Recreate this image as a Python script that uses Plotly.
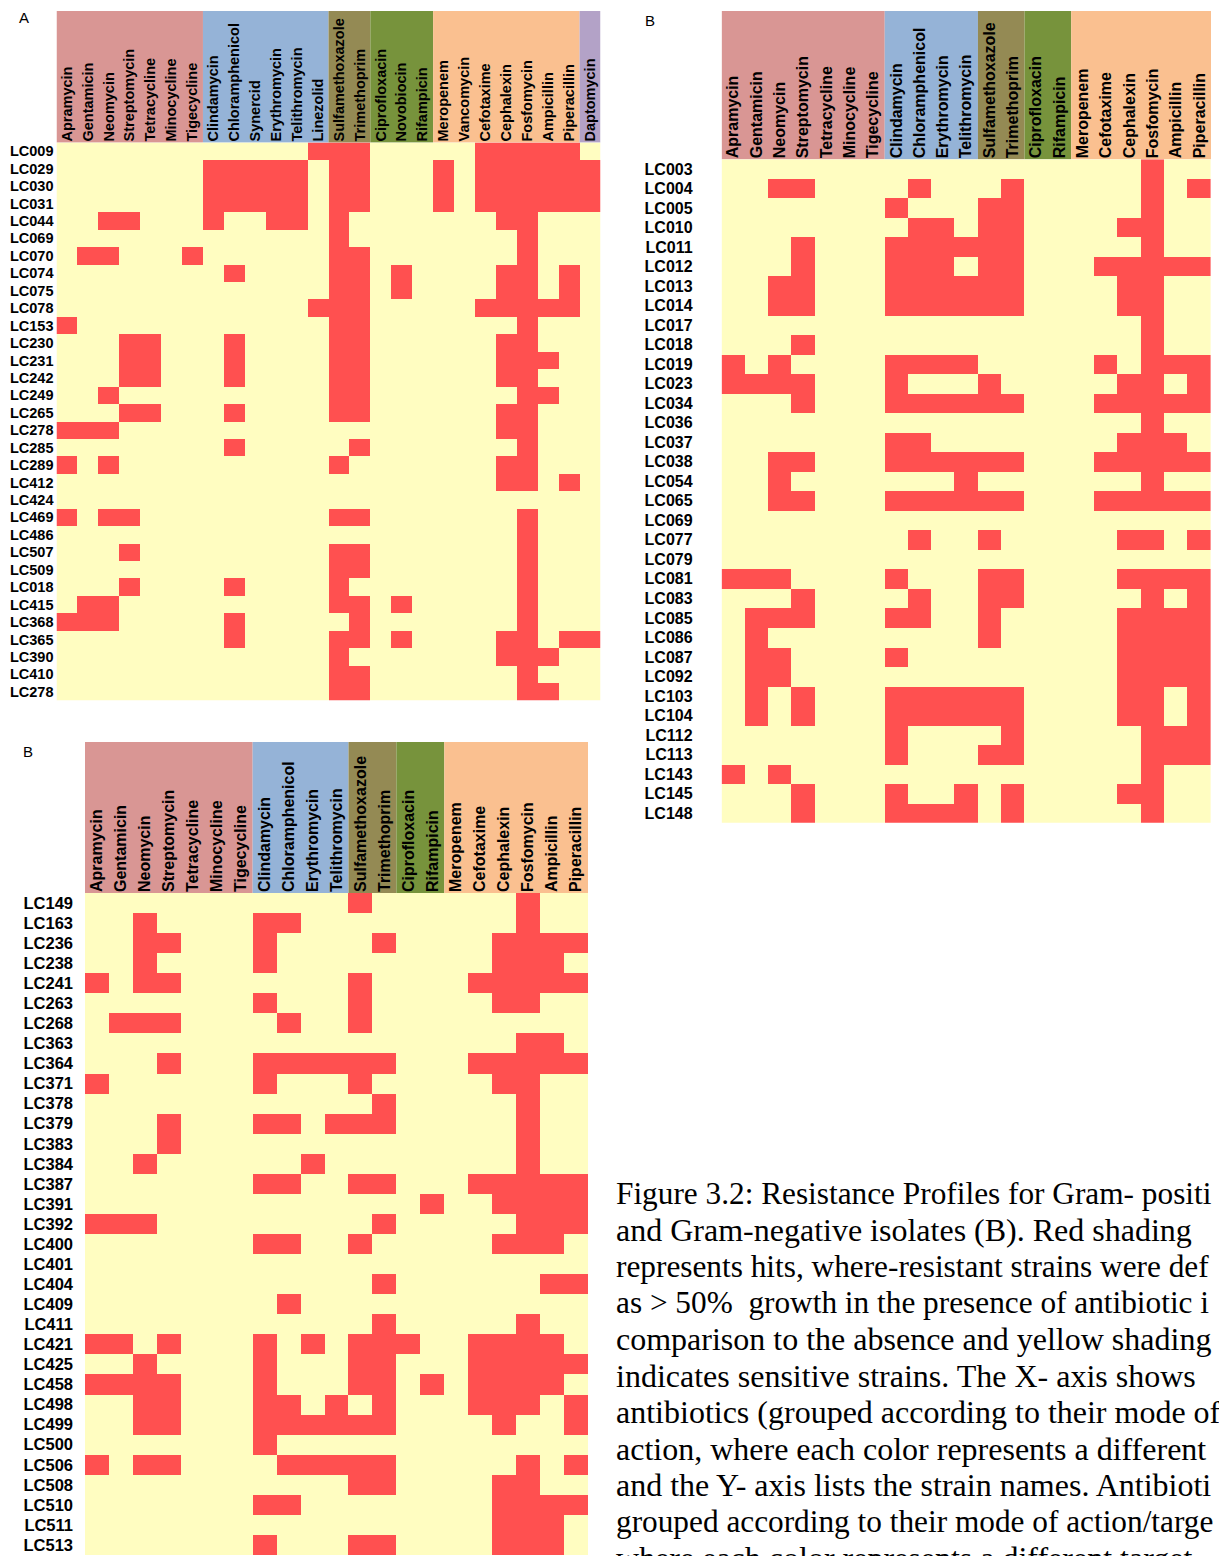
import plotly.graph_objects as go

W, H = 1219, 1556

RED = "#FF5050"
YELLOW = "#FFFDC1"
PINK = "#D99694"
BLUE = "#95B3D7"
OLIVE = "#948A54"
GREEN = "#77933C"
ORANGE = "#FAC090"
PURPLE = "#B3A2C7"

SANS = "Liberation Sans, Arial, sans-serif"
SERIF = "Liberation Serif, Times New Roman, serif"

# ---------------- Gram-positive isolates (A) ----------------
antibiotics_pos = [
    "Apramycin", "Gentamicin", "Neomycin", "Streptomycin", "Tetracycline",
    "Minocycline", "Tigecycline", "Clindamycin", "Chloramphenicol", "Synercid",
    "Erythromycin", "Telithromycin", "Linezolid", "Sulfamethoxazole",
    "Trimethoprim", "Ciprofloxacin", "Novobiocin", "Rifampicin", "Meropenem",
    "Vancomycin", "Cefotaxime", "Cephalexin", "Fosfomycin", "Ampicillin",
    "Piperacillin", "Daptomycin",
]
group_sizes_pos = [7, 6, 2, 3, 7, 1]
group_colors_pos = [PINK, BLUE, OLIVE, GREEN, ORANGE, PURPLE]

strains_pos = [
    "LC009", "LC029", "LC030", "LC031", "LC044", "LC069", "LC070", "LC074",
    "LC075", "LC078", "LC153", "LC230", "LC231", "LC242", "LC249", "LC265",
    "LC278", "LC285", "LC289", "LC412", "LC424", "LC469", "LC486", "LC507",
    "LC509", "LC018", "LC415", "LC368", "LC365", "LC390", "LC410", "LC278",
]
# column indices (into antibiotics_pos) where the strain is resistant
resistant_pos = [
    [12, 13, 14, 20, 21, 22, 23, 24],
    [7, 8, 9, 10, 11, 13, 14, 18, 20, 21, 22, 23, 24, 25],
    [7, 8, 9, 10, 11, 13, 14, 18, 20, 21, 22, 23, 24, 25],
    [7, 8, 9, 10, 11, 13, 14, 18, 20, 21, 22, 23, 24, 25],
    [2, 3, 7, 10, 11, 13, 21, 22],
    [13, 22],
    [1, 2, 6, 13, 14, 22],
    [8, 13, 14, 16, 21, 22, 24],
    [13, 14, 16, 21, 22, 24],
    [12, 13, 14, 20, 21, 22, 23, 24],
    [0, 13, 14, 22],
    [3, 4, 8, 13, 14, 21, 22],
    [3, 4, 8, 13, 14, 21, 22, 23],
    [3, 4, 8, 13, 14, 21, 22],
    [2, 13, 14, 22, 23],
    [3, 4, 8, 13, 14, 21, 22],
    [0, 1, 2, 21, 22],
    [8, 14, 22],
    [0, 2, 13, 21, 22],
    [21, 22, 24],
    [],
    [0, 2, 3, 13, 14, 22],
    [22],
    [3, 13, 14, 22],
    [13, 14, 22],
    [3, 8, 13, 22],
    [1, 2, 13, 14, 16, 22],
    [0, 1, 2, 8, 14, 22],
    [8, 13, 14, 16, 21, 22, 24, 25],
    [13, 21, 22, 23],
    [13, 14, 22],
    [13, 14, 22, 23],
]

# ---------------- Gram-negative isolates (B) ----------------
antibiotics_neg = [
    "Apramycin", "Gentamicin", "Neomycin", "Streptomycin", "Tetracycline",
    "Minocycline", "Tigecycline", "Clindamycin", "Chloramphenicol",
    "Erythromycin", "Telithromycin", "Sulfamethoxazole", "Trimethoprim",
    "Ciprofloxacin", "Rifampicin", "Meropenem", "Cefotaxime", "Cephalexin",
    "Fosfomycin", "Ampicillin", "Piperacillin",
]
group_sizes_neg = [7, 4, 2, 2, 6]
group_colors_neg = [PINK, BLUE, OLIVE, GREEN, ORANGE]

strains_neg_1 = [
    "LC003", "LC004", "LC005", "LC010", "LC011", "LC012", "LC013", "LC014",
    "LC017", "LC018", "LC019", "LC023", "LC034", "LC036", "LC037", "LC038",
    "LC054", "LC065", "LC069", "LC077", "LC079", "LC081", "LC083", "LC085",
    "LC086", "LC087", "LC092", "LC103", "LC104", "LC112", "LC113", "LC143",
    "LC145", "LC148",
]
resistant_neg_1 = [
    [18],
    [2, 3, 8, 12, 18, 20],
    [7, 11, 12, 18],
    [8, 9, 11, 12, 17, 18],
    [3, 7, 8, 9, 10, 11, 12, 18],
    [3, 7, 8, 9, 11, 12, 16, 17, 18, 19, 20],
    [2, 3, 7, 8, 9, 10, 11, 12, 17, 18],
    [2, 3, 7, 8, 9, 10, 11, 12, 17, 18],
    [18],
    [3, 18],
    [0, 2, 7, 8, 9, 10, 16, 18, 19, 20],
    [0, 1, 2, 3, 7, 11, 17, 18, 20],
    [3, 7, 8, 9, 10, 11, 12, 16, 17, 18, 19, 20],
    [18],
    [7, 8, 17, 18, 19],
    [2, 3, 7, 8, 9, 10, 11, 12, 16, 17, 18, 19, 20],
    [2, 10, 18],
    [2, 3, 7, 8, 9, 10, 11, 12, 16, 17, 18, 19, 20],
    [],
    [8, 11, 17, 18, 20],
    [],
    [0, 1, 2, 7, 11, 12, 17, 18, 19, 20],
    [3, 8, 11, 12, 18, 20],
    [1, 2, 3, 7, 8, 11, 17, 18, 19, 20],
    [1, 11, 17, 18, 19, 20],
    [1, 2, 7, 17, 18, 19, 20],
    [1, 2, 17, 18, 19, 20],
    [1, 3, 7, 8, 9, 10, 11, 12, 17, 18, 20],
    [1, 3, 7, 8, 9, 10, 11, 12, 17, 18, 20],
    [7, 12, 18, 19, 20],
    [7, 11, 12, 18, 19, 20],
    [0, 2, 18],
    [3, 7, 10, 12, 17, 18],
    [3, 7, 8, 9, 10, 12, 18],
]

strains_neg_2 = [
    "LC149", "LC163", "LC236", "LC238", "LC241", "LC263", "LC268", "LC363",
    "LC364", "LC371", "LC378", "LC379", "LC383", "LC384", "LC387", "LC391",
    "LC392", "LC400", "LC401", "LC404", "LC409", "LC411", "LC421", "LC425",
    "LC458", "LC498", "LC499", "LC500", "LC506", "LC508", "LC510", "LC511",
    "LC513",
]
resistant_neg_2 = [
    [11, 18],
    [2, 7, 8, 18],
    [2, 3, 7, 12, 17, 18, 19, 20],
    [2, 7, 17, 18, 19],
    [0, 2, 3, 11, 16, 17, 18, 19, 20],
    [7, 11, 17, 18],
    [1, 2, 3, 8, 11],
    [18, 19],
    [3, 7, 8, 9, 10, 11, 12, 16, 17, 18, 19, 20],
    [0, 7, 11, 17, 18],
    [12, 18],
    [3, 7, 8, 10, 11, 12, 18],
    [3, 18],
    [2, 9, 18],
    [7, 8, 11, 12, 16, 17, 18, 19, 20],
    [14, 17, 18, 19, 20],
    [0, 1, 2, 12, 18, 19, 20],
    [7, 8, 11, 17, 18, 19],
    [],
    [12, 19, 20],
    [8],
    [12, 18],
    [0, 1, 3, 7, 9, 11, 12, 13, 16, 17, 18, 19],
    [2, 7, 11, 12, 16, 17, 18, 19, 20],
    [0, 1, 2, 3, 7, 11, 12, 14, 16, 17, 18, 19],
    [2, 3, 7, 8, 10, 12, 16, 17, 18, 20],
    [2, 3, 7, 8, 9, 10, 11, 12, 17, 20],
    [7],
    [0, 2, 3, 8, 9, 10, 11, 12, 18, 20],
    [11, 12, 17, 18],
    [7, 8, 17, 18, 19, 20],
    [17, 18, 19],
    [7, 11, 12, 17, 18, 19],
]

# caption as it runs off the right-hand edge of the page
caption_lines = [
    "Figure 3.2: Resistance Profiles for Gram- positi",
    "and Gram-negative isolates (B). Red shading",
    "represents hits, where-resistant strains were def",
    "as > 50%\u00a0 growth in the presence of antibiotic i",
    "comparison to the absence and yellow shading",
    "indicates sensitive strains. The X- axis shows",
    "antibiotics (grouped according to their mode of",
    "action, where each color represents a different",
    "and the Y- axis lists the strain names. Antibioti",
    "grouped according to their mode of action/targe",
    "where each color represents a different target",
]
# the longest lines are set a touch smaller so they stay on the page
caption_sizes = [31.3, 32, 31.3, 31.3, 32, 32, 32, 32, 32, 31.3, 32]

# panel placement on the page (pixels)
panels = [
    dict(abx=antibiotics_pos, sizes=group_sizes_pos, colors=group_colors_pos,
         strains=strains_pos, res=resistant_pos,
         left=56.5, right=600.5, band_top=11, top=142.5, bottom=700.5,
         xfont=14.5, yfont=14.5, ystand=2, letter="A", lx=24, ly=18),
    dict(abx=antibiotics_neg, sizes=group_sizes_neg, colors=group_colors_neg,
         strains=strains_neg_1, res=resistant_neg_1,
         left=721.6, right=1211, band_top=11, top=159.3, bottom=822.8,
         xfont=16, yfont=16, ystand=28, letter="B", lx=650, ly=21),
    dict(abx=antibiotics_neg, sizes=group_sizes_neg, colors=group_colors_neg,
         strains=strains_neg_2, res=resistant_neg_2,
         left=85, right=588, band_top=742, top=893, bottom=1555,
         xfont=16, yfont=16.5, ystand=11, letter="B", lx=28, ly=751),
]

fig = go.Figure()

for i, p in enumerate(panels, start=1):
    n = len(p["abx"])
    m = len(p["strains"])
    z = [[1 if j in row else 0 for j in range(n)] for row in p["res"]]
    xa = "x" if i == 1 else f"x{i}"
    ya = "y" if i == 1 else f"y{i}"

    fig.add_trace(go.Heatmap(
        z=z, x=list(range(n)), y=list(range(m)),
        xaxis=xa, yaxis=ya,
        colorscale=[[0, YELLOW], [1, RED]], zmin=0, zmax=1,
        showscale=False, hoverinfo="skip",
    ))

    fig.layout["xaxis" if i == 1 else f"xaxis{i}"] = dict(
        domain=[p["left"] / W, p["right"] / W], anchor=ya,
        range=[-0.5, n - 0.5], side="top",
        tickmode="array", tickvals=list(range(n)), ticktext=p["abx"],
        tickangle=-90, ticks="", showgrid=False, zeroline=False,
        showline=False, automargin=False, fixedrange=True,
        tickfont=dict(family=SANS, size=p["xfont"], color="black", weight="bold"),
    )
    fig.layout["yaxis" if i == 1 else f"yaxis{i}"] = dict(
        domain=[1 - p["bottom"] / H, 1 - p["top"] / H], anchor=xa,
        range=[m - 0.5, -0.5],
        tickmode="array", tickvals=list(range(m)), ticktext=p["strains"],
        ticks="", showgrid=False, zeroline=False, showline=False,
        automargin=False, fixedrange=True, ticklabelstandoff=p["ystand"],
        tickfont=dict(family=SANS, size=p["yfont"], color="black", weight="bold"),
    )

    # coloured header band behind the antibiotic names, one block per class
    start = 0
    for size, colour in zip(p["sizes"], p["colors"]):
        fig.add_shape(
            type="rect", xref=xa, yref="paper",
            x0=start - 0.5, x1=start + size - 0.5,
            y0=1 - p["top"] / H, y1=1 - p["band_top"] / H,
            fillcolor=colour, line_width=0, layer="below",
        )
        start += size

    fig.add_annotation(
        text=p["letter"], xref="paper", yref="paper",
        x=p["lx"] / W, y=1 - p["ly"] / H, xanchor="center", yanchor="middle",
        showarrow=False, font=dict(family=SANS, size=15, color="black"),
    )

# figure caption, one annotation per line
for k, (line, size) in enumerate(zip(caption_lines, caption_sizes)):
    fig.add_annotation(
        text=line, xref="paper", yref="paper",
        x=614 / W, y=1 - (1193 + 36.5 * k) / H,
        xanchor="left", yanchor="middle", align="left",
        showarrow=False, font=dict(family=SERIF, size=size, color="black"),
    )

fig.update_layout(
    width=W, height=H, autosize=False,
    margin=dict(l=0, r=0, t=0, b=0, pad=0),
    paper_bgcolor="white", plot_bgcolor="white",
    showlegend=False, template="none",
)

fig.write_html("out.html")
